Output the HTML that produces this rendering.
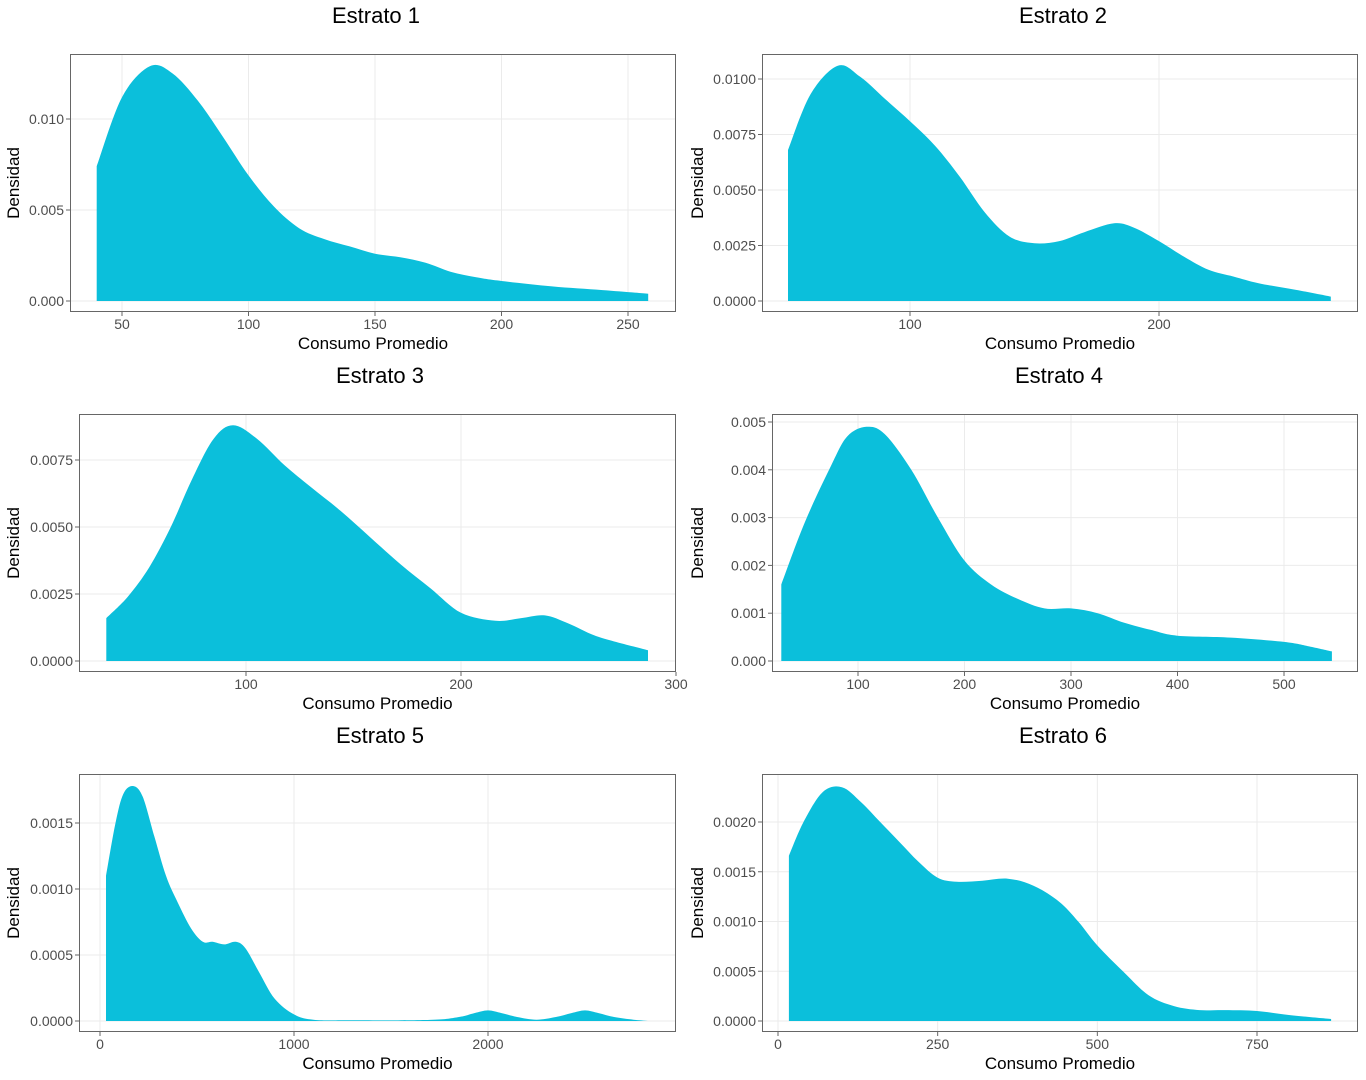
<!DOCTYPE html>
<html><head><meta charset="utf-8">
<style>
html,body{margin:0;padding:0;background:#fff;}
svg{display:block;font-family:"Liberation Sans",sans-serif;}
</style></head>
<body>
<svg id="chart" width="1366" height="1080" viewBox="0 0 1366 1080" xmlns="http://www.w3.org/2000/svg"></svg>
<script>
// ---- Data ----
const p1X=[40,50,61,70,80,90,100,110,120,130,140,150,160,170,180,190,200,220,240,258];
const p1Y=[0.0074,0.0112,0.0129,0.0125,0.0110,0.0090,0.0069,0.0052,0.0040,0.0034,0.0030,0.0026,0.0024,0.0021,0.0016,0.0013,0.0011,0.0008,0.0006,0.0004];
const p1XTicks=[50,100,150,200,250];
const p1YTicks=["0.000","0.005","0.010"];

const p2X=[51,60,71,80,90,100,110,120,130,140,150,160,170,182,190,200,210,220,230,240,255,269];
const p2Y=[0.0068,0.0093,0.0106,0.0101,0.0091,0.0081,0.0070,0.0056,0.0040,0.0029,0.0026,0.0027,0.0031,0.0035,0.0033,0.0027,0.0020,0.0014,0.0011,0.0008,0.0005,0.0002];
const p2XTicks=[100,200];
const p2YTicks=["0.0000","0.0025","0.0050","0.0075","0.0100"];

const p3X=[35,45,55,65,75,85,94,105,118,130,144,158,172,186,200,216,228,239,250,264,287];
const p3Y=[0.0016,0.0024,0.0035,0.0050,0.0068,0.0083,0.0088,0.0083,0.0073,0.0065,0.0056,0.0046,0.0036,0.0027,0.0018,0.0015,0.0016,0.0017,0.0014,0.0009,0.0004];
const p3XTicks=[100,200,300];
const p3YTicks=["0.0000","0.0025","0.0050","0.0075"];

const p4X=[28,50,75,90,108,125,150,175,200,225,250,275,300,325,350,375,400,450,500,525,545];
const p4Y=[0.0016,0.0029,0.0041,0.0047,0.0049,0.00475,0.0040,0.0030,0.0021,0.0016,0.0013,0.0011,0.0011,0.0010,0.0008,0.00065,0.00053,0.00049,0.0004,0.0003,0.0002];
const p4XTicks=[100,200,300,400,500];
const p4YTicks=["0.000","0.001","0.002","0.003","0.004","0.005"];

const p5X=[31,80,120,170,220,280,340,400,470,530,580,640,700,750,820,900,1000,1100,1300,1700,1850,1930,2000,2070,2150,2250,2350,2430,2500,2570,2650,2750,2830];
const p5Y=[0.0011,0.0015,0.00172,0.00178,0.0017,0.0014,0.0011,0.0009,0.0007,0.0006,0.0006,0.00058,0.0006,0.00055,0.00037,0.00017,0.00005,0.00001,0.000005,0.000008,0.00003,0.00006,0.00008,0.00006,0.00003,0.00001,0.00003,0.00006,0.00008,0.00006,0.00003,0.00001,0];
const p5XTicks=[0,1000,2000];
const p5YTicks=["0.0000","0.0005","0.0010","0.0015"];

const p6X=[17,40,70,100,130,160,190,220,250,280,320,360,400,440,470,500,540,580,620,660,700,750,800,866];
const p6Y=[0.00166,0.0020,0.0023,0.00235,0.0022,0.0020,0.0018,0.0016,0.00144,0.0014,0.00141,0.00143,0.00136,0.0012,0.0010,0.00076,0.0005,0.00026,0.00015,0.00011,0.00011,0.0001,0.00006,0.00002];
const p6XTicks=[0,250,500,750];
const p6YTicks=["0.0000","0.0005","0.0010","0.0015","0.0020"];

// ---- Layout ----
const panels=[
 {title:"Estrato 1",tx:376,rect:[70,54,676,312],xa:[50,122,250,628],ya:[0,301,0.010,119],xs:p1X,ys:p1Y,xt:p1XTicks,yt:p1YTicks,lx:13},
 {title:"Estrato 2",tx:1063,rect:[762,54,1358,312],xa:[100,910,200,1159],ya:[0,301,0.01,79],xs:p2X,ys:p2Y,xt:p2XTicks,yt:p2YTicks,lx:697},
 {title:"Estrato 3",tx:380,rect:[79,414,676,672],xa:[100,246,200,461],ya:[0,661,0.0075,460],xs:p3X,ys:p3Y,xt:p3XTicks,yt:p3YTicks,lx:13},
 {title:"Estrato 4",tx:1059,rect:[772,414,1358,672],xa:[100,858,500,1284],ya:[0,661,0.005,422],xs:p4X,ys:p4Y,xt:p4XTicks,yt:p4YTicks,lx:697},
 {title:"Estrato 5",tx:380,rect:[79,774,676,1032],xa:[0,100,2000,488],ya:[0,1021,0.0015,823],xs:p5X,ys:p5Y,xt:p5XTicks,yt:p5YTicks,lx:13},
 {title:"Estrato 6",tx:1063,rect:[762,774,1358,1032],xa:[0,778,750,1257],ya:[0,1021,0.002,822],xs:p6X,ys:p6Y,xt:p6XTicks,yt:p6YTicks,lx:697}
];
const NS="http://www.w3.org/2000/svg";
const svg=document.getElementById('chart');
function mk(tag,attrs,parent){const e=document.createElementNS(NS,tag);for(const k in attrs)e.setAttribute(k,attrs[k]);(parent||svg).appendChild(e);return e;}
function smoothPath(pts){
 let d="";
 for(let i=0;i<pts.length-1;i++){
  const p0=pts[Math.max(0,i-1)],p1=pts[i],p2=pts[i+1],p3=pts[Math.min(pts.length-1,i+2)];
  const c1=[p1[0]+(p2[0]-p0[0])/6,p1[1]+(p2[1]-p0[1])/6];
  const c2=[p2[0]-(p3[0]-p1[0])/6,p2[1]-(p3[1]-p1[1])/6];
  d+=` C${c1[0].toFixed(1)},${c1[1].toFixed(1)} ${c2[0].toFixed(1)},${c2[1].toFixed(1)} ${p2[0].toFixed(1)},${p2[1].toFixed(1)}`;
 }
 return d;
}
panels.forEach((P,idx)=>{
 const n=idx+1;
 const g=mk('g',{});
 
 
 const [x0,y0,x1,y1]=P.rect;
 const xS=v=>P.xa[1]+(v-P.xa[0])*(P.xa[3]-P.xa[1])/(P.xa[2]-P.xa[0]);
 const yS=v=>P.ya[1]+(v-P.ya[0])*(P.ya[3]-P.ya[1])/(P.ya[2]-P.ya[0]);
 const cp=mk('clipPath',{id:'cp'+n},g);
 mk('rect',{x:x0,y:y0,width:x1-x0,height:y1-y0},cp);
 const grid=mk('g',{'clip-path':`url(#cp${n})`},g);
 P.xt.forEach(v=>{const l=mk('line',{x1:xS(v),x2:xS(v),y1:y0,y2:y1,stroke:'#ebebeb','stroke-width':1},grid);});
 P.yt.forEach(s=>{const v=parseFloat(s);const l=mk('line',{x1:x0,x2:x1,y1:yS(v),y2:yS(v),stroke:'#ebebeb','stroke-width':1},grid);});
 const pts=P.xs.map((x,i)=>[xS(x),yS(P.ys[i])]);
 const base=yS(0);
 let d=`M${pts[0][0].toFixed(1)},${base.toFixed(1)} L${pts[0][0].toFixed(1)},${pts[0][1].toFixed(1)}`+smoothPath(pts)+` L${pts[pts.length-1][0].toFixed(1)},${base.toFixed(1)} Z`;
 const area=mk('path',{d:d,fill:'#0bbfdb',stroke:'none'},grid);
 
 
 const br=mk('rect',{x:x0+0.5,y:y0+0.5,width:x1-x0-1,height:y1-y0-1,fill:'none',stroke:'#666','stroke-width':1},g);
 
 
 P.xt.forEach(v=>{
  mk('line',{x1:xS(v),x2:xS(v),y1:y1,y2:y1+4,stroke:'#666'},g);
  const t=mk('text',{x:xS(v),y:y1+17,'text-anchor':'middle','font-size':14,fill:'#4d4d4d'},g);
  t.textContent=v;
  
  
 });
 P.yt.forEach(s=>{
  const v=parseFloat(s);
  mk('line',{x1:x0-4,x2:x0,y1:yS(v),y2:yS(v),stroke:'#666'},g);
  const t=mk('text',{x:x0-6,y:yS(v)+5,'text-anchor':'end','font-size':14,fill:'#4d4d4d'},g);
  t.textContent=s;
  
  
 });
 const xt=mk('text',{x:(x0+x1)/2,y:y1+37,'text-anchor':'middle','font-size':17,fill:'#000'},g);
 xt.textContent="Consumo Promedio";
 
 
 const cy=(y0+y1)/2;
 const yt=mk('text',{x:P.lx+6,y:cy,'text-anchor':'middle','font-size':17,fill:'#000',transform:`rotate(-90 ${P.lx+6} ${cy})`},g);
 yt.textContent="Densidad";
 
 
 const tt=mk('text',{x:P.tx,y:y0-31,'text-anchor':'middle','font-size':22,fill:'#000'},g);
 tt.textContent=P.title;
 
 
});
</script>
</body></html>
